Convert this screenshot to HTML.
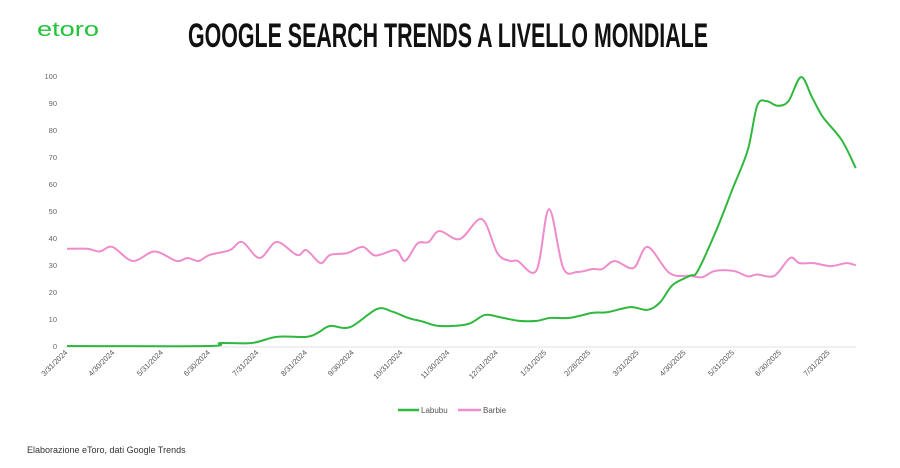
<!DOCTYPE html>
<html><head><meta charset="utf-8"><style>
html,body{margin:0;padding:0;background:#fff;width:900px;height:468px;overflow:hidden;font-family:"Liberation Sans",sans-serif;}
</style></head><body>
<svg id="chart" width="900" height="468" xmlns="http://www.w3.org/2000/svg">
<text x="37" y="36" font-family="Liberation Sans, sans-serif" font-size="20" fill="#22c33a" textLength="62" lengthAdjust="spacingAndGlyphs">etoro</text>
<text x="188" y="47" font-family="Liberation Sans, sans-serif" font-weight="bold" font-size="34" fill="#111" textLength="520" lengthAdjust="spacingAndGlyphs">GOOGLE SEARCH TRENDS A LIVELLO MONDIALE</text>
<g id="yaxis"></g><g id="xaxis"></g><g id="series"></g>
<g>
<line x1="398" y1="410" x2="419" y2="410" stroke="#2fb83e" stroke-width="2.5"/>
<text x="421" y="413" font-size="8" fill="#555">Labubu</text>
<line x1="458" y1="410" x2="481" y2="410" stroke="#ee8ccc" stroke-width="2.5"/>
<text x="483" y="413" font-size="8" fill="#555">Barbie</text>
</g>
<text x="27" y="453" font-size="9" fill="#333">Elaborazione eToro, dati Google Trends</text>
</svg>
<script>
// days since 2024-03-31
const labubuDays=[0,90,98,118,134,153,160,168,181,198,208,218,227,238,256,267,277,289,300,309,321,336,345,360,371,379,387,398,403,415,425,435,441,447,454,461,469,476,483,495,504];
const labubuVals=[0,0,1.1,1.1,3.4,3.4,4.8,7.4,7,13.7,12.7,10.4,9.1,7.4,8.1,11.5,10.6,9.3,9.3,10.4,10.4,12.3,12.5,14.4,13.4,16.2,22.6,26,27.8,43,57.8,72.6,89,90.7,89,90.7,99.6,92.2,84.8,76.3,65.9];
const barbieDays=[0,13,21,29,42,56,70,77,84,91,104,112,123,134,147,153,162,168,179,189,197,210,216,224,231,238,251,265,275,283,288,300,308,317,326,336,342,350,362,371,385,398,406,414,426,435,441,452,462,468,477,488,498,504];
const barbieVals=[36,36,35,36.7,31.5,35,31.5,32.6,31.5,33.7,35.5,38.5,32.6,38.5,33.7,35.5,30.7,33.7,34.4,36.7,33.5,35.5,31.5,38,38.5,42.6,39.6,47,34.4,31.5,31.5,28,50.7,29,27.4,28.5,28.5,31.5,28.9,36.7,27,26,25.5,27.8,27.8,25.8,26.5,26,32.6,30.7,30.7,29.6,30.7,29.9];
const yTicks=[0,10,20,30,40,50,60,70,80,90,100];
const xTickDays=[0,30,61,91,122,153,183,214,244,275,306,334,365,395,426,456,487];
const xTickLabels=["3/31/2024","4/30/2024","5/31/2024","6/30/2024","7/31/2024","8/31/2024","9/30/2024","10/31/2024","11/30/2024","12/31/2024","1/31/2025","2/28/2025","3/31/2025","4/30/2025","5/31/2025","6/30/2025","7/31/2025"];

const NS="http://www.w3.org/2000/svg";
const X=d=>67+d*1.565;
const Y=v=>346-v*2.7;
function mk(t,a,p){const e=document.createElementNS(NS,t);for(const k in a)e.setAttribute(k,a[k]);p.appendChild(e);return e;}
const ya=document.getElementById('yaxis'),xa=document.getElementById('xaxis'),sg=document.getElementById('series');
const base=mk('line',{x1:64,x2:856,y1:Y(0)+1,y2:Y(0)+1,stroke:'#e2e2e2','stroke-width':1},ya);


yTicks.forEach(v=>{
  const t=mk('text',{x:57,y:Y(v)+3,'text-anchor':'end','font-size':7.5,fill:'#666'},ya);
  t.textContent=v;
  
  
});
xTickDays.forEach((d,i)=>{
  const x=X(d)+1;
  const t=mk('text',{x:x,y:353,'text-anchor':'end','font-size':7.5,fill:'#555',transform:`rotate(-45 ${x} 353)`},xa);
  t.textContent=xTickLabels[i];
  
  
});
function smooth(days,vals){
  const p=days.map((d,i)=>[X(d),Y(vals[i])]);
  let s=`M${p[0][0]},${p[0][1]}`;
  for(let i=0;i<p.length-1;i++){
    const p0=p[i-1]||p[i],p1=p[i],p2=p[i+1],p3=p[i+2]||p2;
    const c1=[p1[0]+(p2[0]-p0[0])/6,p1[1]+(p2[1]-p0[1])/6];
    const c2=[p2[0]-(p3[0]-p1[0])/6,p2[1]-(p3[1]-p1[1])/6];
    s+=`C${c1[0]},${c1[1]} ${c2[0]},${c2[1]} ${p2[0]},${p2[1]}`;
  }
  return s;
}
const b=mk('path',{d:smooth(barbieDays,barbieVals),fill:'none',stroke:'#ee8ccc','stroke-width':2},sg);


const l=mk('path',{d:smooth(labubuDays,labubuVals),fill:'none',stroke:'#2fb83e','stroke-width':2},sg);


</script>
</body></html>
